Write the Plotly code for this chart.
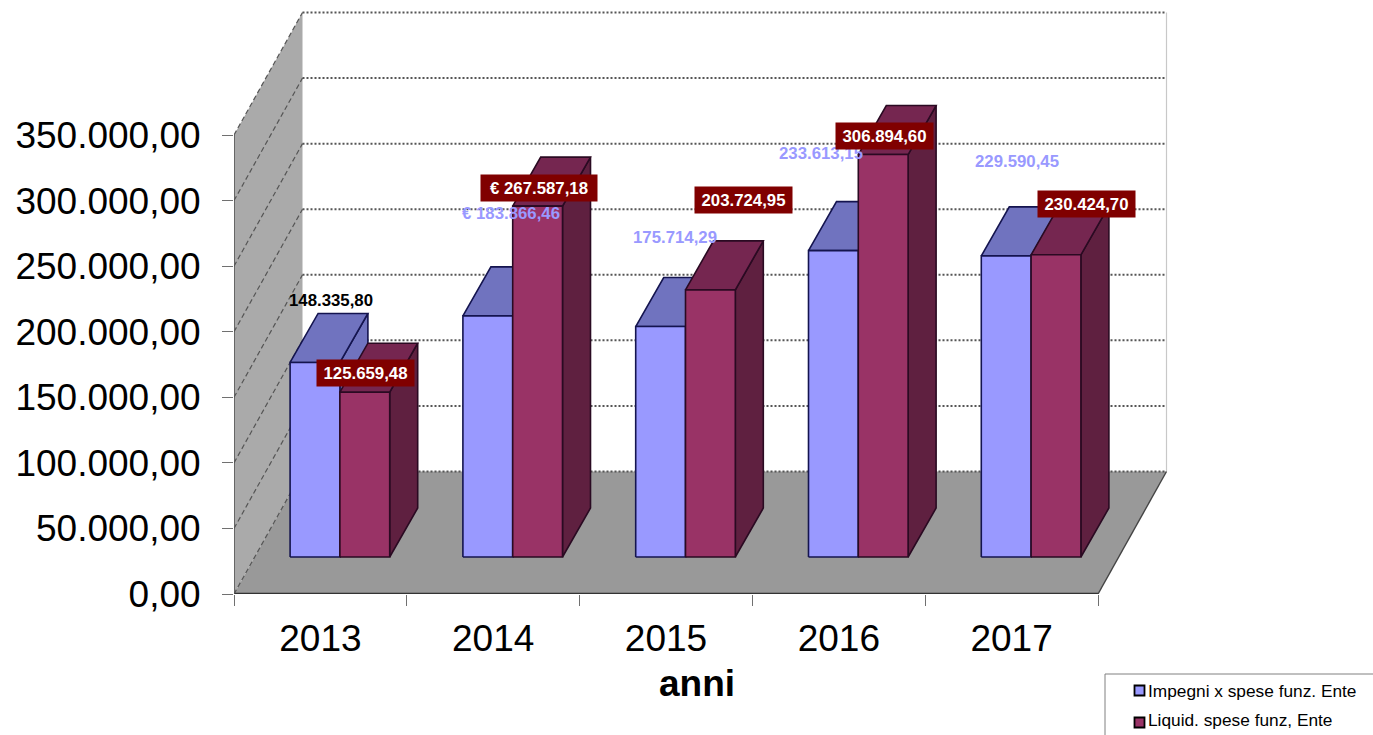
import plotly.graph_objects as go

years = ["2013", "2014", "2015", "2016", "2017"]
impegni = [148335.80, 183866.46, 175714.29, 233613.15, 229590.45]
liquid = [125659.48, 267587.18, 203724.95, 306894.60, 230424.70]
value_ticks = [0, 50000, 100000, 150000, 200000, 250000, 300000, 350000]
value_labels = ["0,00", "50.000,00", "100.000,00", "150.000,00", "200.000,00",
                "250.000,00", "300.000,00", "350.000,00"]
impegni_labels = ["148.335,80", "€ 183.866,46", "175.714,29", "233.613,15", "229.590,45"]
liquid_labels = ["125.659,48", "€ 267.587,18", "203.724,95", "306.894,60", "230.424,70"]
series_names = ["Impegni x spese funz. Ente", "Liquid. spese funz, Ente"]

# page geometry
L, T, AXIS_Y = 234, 6, 594
PLOT_R = 1175
CAT = 172.8
PX_PER_VAL = 459 / 350000
def dx(px): return px / CAT
def dv(px): return px / PX_PER_VAL
def paper_x(px): return (px - L) / (PLOT_R - L)
def paper_y(py): return (AXIS_Y - py) / (AXIS_Y - T)

WALL_X, WALL_V = dx(68.5), dv(122.5)
END_X = 5.0
BASE_X, BASE_V = dx(19.5), dv(37)
DEPTH_X, DEPTH_V = dx(28), dv(49)
BAR_W = dx(49.8)
TOP_V = 350000 + WALL_V

fig = go.Figure()

def poly(xs, ys, fill, line=None, width=1.0):
    fig.add_trace(go.Scatter(
        x=xs, y=ys, mode="lines", fill="toself", fillcolor=fill,
        line=dict(color=line or fill, width=width if line else 0),
        hoverinfo="skip", showlegend=False, cliponaxis=False))

def segment(xs, ys, color, width, dash="solid"):
    fig.add_trace(go.Scatter(
        x=xs, y=ys, mode="lines", line=dict(color=color, width=width, dash=dash),
        hoverinfo="skip", showlegend=False, cliponaxis=False))

# walls and floor
poly([0, 0, WALL_X, WALL_X, 0], [0, 350000, TOP_V, WALL_V, 0], "#aaaaaa")
poly([0, WALL_X, END_X + WALL_X, END_X, 0], [0, WALL_V, WALL_V, 0, 0], "#999999")
segment([END_X + WALL_X, END_X + WALL_X], [WALL_V, TOP_V], "#c8c8c8", 1.2)

# grid
for v in value_ticks:
    segment([WALL_X, END_X + WALL_X], [v + WALL_V, v + WALL_V], "#555555", 2, "2px,2px")
    segment([0, WALL_X], [v, v + WALL_V], "#555555", 1.2, "5px,3px")

# bars
def bar(center, value, front, top, side, edge):
    x0, x1 = center, center + BAR_W
    b, h = BASE_V, BASE_V + value
    poly([x1, x1 + DEPTH_X, x1 + DEPTH_X, x1, x1], [b, b + DEPTH_V, h + DEPTH_V, h, b], side, edge, 1.6)
    poly([x0, x0 + DEPTH_X, x1 + DEPTH_X, x1, x0], [h, h + DEPTH_V, h + DEPTH_V, h, h], top, edge, 1.6)
    poly([x0, x0, x1, x1, x0], [b, h, h, b, b], front, edge, 1.6)

for i in range(len(years)):
    mid = i + 0.5 + BASE_X
    bar(mid - BAR_W, impegni[i], "#9999ff", "#7073bf", "#7073bf", "#14144f")
    bar(mid, liquid[i], "#993366", "#752650", "#5f2040", "#2a0a22")

# axis lines
segment([0, END_X], [0, 0], "#333333", 2.4)
segment([0, 0], [0, 350000], "#555555", 1.6)
segment([END_X, END_X + WALL_X], [0, WALL_V], "#444444", 1.4)

# data labels (page position of each label's centre)
plain_pos = [(331, 300), (511, 214), (675, 237), (821, 153), (1016.5, 161)]
plain_col = ["#000000", "#9999ff", "#9999ff", "#9999ff", "#9999ff"]
box_pos = [(365.5, 373), (539, 188), (743.5, 200.5), (884.5, 136), (1086.5, 204)]
box_w = [97, 116, 97, 97, 97]
LABEL_FONT = "Liberation Sans"
anns = []
for t, (px, py), c in zip(impegni_labels, plain_pos, plain_col):
    anns.append(dict(text=f"<b>{t}</b>", x=paper_x(px), y=paper_y(py), xref="paper", yref="paper",
                     showarrow=False, xanchor="center", yanchor="middle",
                     font=dict(family=LABEL_FONT, size=16.8, color=c)))
for t, (px, py), w in zip(liquid_labels, box_pos, box_w):
    anns.append(dict(text=f"<b>{t}</b>", x=paper_x(px), y=paper_y(py), xref="paper", yref="paper",
                     showarrow=False, xanchor="center", yanchor="middle", width=w, height=26,
                     bgcolor="#800000", borderpad=0, align="center",
                     font=dict(family=LABEL_FONT, size=16.8, color="#ffffff")))

# axis title
anns.append(dict(text="<b>anni</b>", x=paper_x(697), y=paper_y(683), xref="paper", yref="paper",
                 showarrow=False, xanchor="center", yanchor="middle",
                 font=dict(family=LABEL_FONT, size=37, color="#000000")))

# legend panel
shapes = [dict(type="path", xref="paper", yref="paper",
               path=f"M {paper_x(1105)} {paper_y(735)} L {paper_x(1105)} {paper_y(674)} L {paper_x(1373)} {paper_y(674)}",
               line=dict(color="#808080", width=1))]
legend_rows = [(691, 685, "#9999ff"), (720, 717, "#993366")]
for name, (ty, sy, col) in zip(series_names, legend_rows):
    shapes.append(dict(type="rect", xref="paper", yref="paper",
                       x0=paper_x(1134.5), x1=paper_x(1144.5), y0=paper_y(sy + 0.5), y1=paper_y(sy + 10.5),
                       fillcolor=col, line=dict(color="#000000", width=1.8)))
    anns.append(dict(text=name, x=paper_x(1146), y=paper_y(ty), xref="paper", yref="paper",
                     showarrow=False, xanchor="left", yanchor="middle",
                     font=dict(family=LABEL_FONT, size=17.3, color="#000000")))

fig.update_layout(
    width=1373, height=735, autosize=False,
    margin=dict(l=L, r=1373 - PLOT_R, t=T, b=735 - AXIS_Y, pad=0),
    paper_bgcolor="#ffffff", plot_bgcolor="rgba(0,0,0,0)",
    showlegend=False, annotations=anns, shapes=shapes,
    font=dict(family="Liberation Sans", color="#000000"),
    xaxis=dict(
        automargin=False,
        range=[0, (PLOT_R - L) / CAT], tickmode="array",
        tickvals=[i + 0.5 for i in range(len(years))], ticktext=years,
        ticks="", showgrid=False, zeroline=False, showline=False, ticklabelstandoff=19,
        tickfont=dict(size=37),
        minor=dict(tickmode="array", tickvals=list(range(len(years) + 1)), ticks="outside",
                   ticklen=11, tickcolor="#707070", tickwidth=1, showgrid=False),
    ),
    yaxis=dict(
        automargin=False,
        range=[0, (AXIS_Y - T) / PX_PER_VAL], tickmode="array",
        tickvals=value_ticks, ticktext=value_labels,
        ticks="outside", ticklen=11, tickcolor="#707070", tickwidth=1, ticklabelstandoff=14,
        showgrid=False, zeroline=False, showline=False, tickfont=dict(size=37),
    ),
)

fig.write_html("out.html", config=dict(displayModeBar=False),
               post_script="document.body.style.margin='0';document.documentElement.style.overflow='hidden';")
